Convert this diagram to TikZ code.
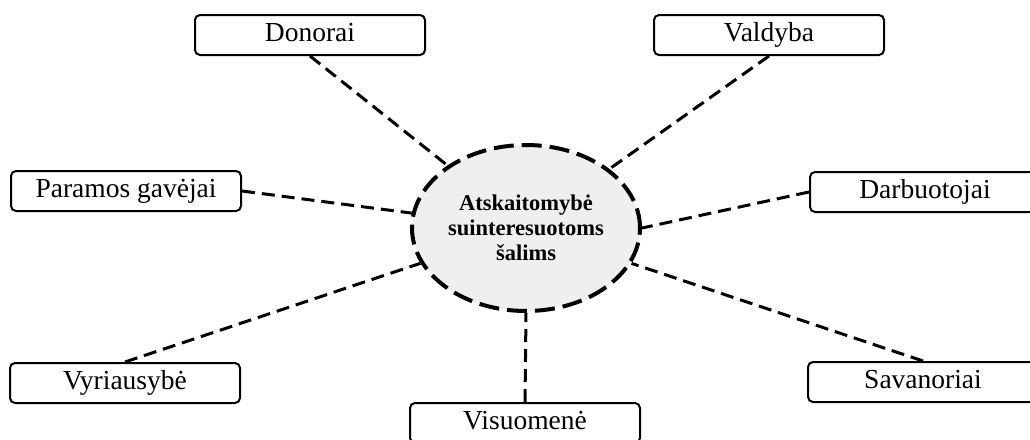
\documentclass[tikz,border=0pt]{standalone}
\usepackage{fontspec}
\setmainfont{Liberation Serif}
\usetikzlibrary{shapes.geometric}
\definecolor{ellfill}{HTML}{EFEFEF}
\tikzset{
  party/.style={draw, line width=2pt, rounded corners=5pt, minimum width=230pt, minimum height=40pt, inner sep=0pt, text height=19pt, text depth=6pt, font=\fontsize{27.5}{30}\selectfont, fill=white},
  hub/.style={ellipse, draw, line width=4pt, dash pattern=on 20pt off 8pt, fill=ellfill, minimum width=228pt, minimum height=166pt, inner sep=0pt, align=center, font=\bfseries\fontsize{22.5}{25}\selectfont},
  link/.style={line width=3pt, dash pattern=on 13pt off 7pt}
}
\begin{document}
\begin{tikzpicture}[x=1pt,y=-1pt]
\useasboundingbox (0,0) rectangle (1030,439);
\node[hub] (ell) at (526,228) {Atskaitomybė\\suinteresuotoms\\šalims};
\node[party] (don) at (310,35) {Donorai};
\node[party] (val) at (769,35) {Valdyba};
\node[party] (par) at (126,191) {Paramos gavėjai};
\node[party] (dar) at (925,192) {Darbuotojai};
\node[party] (vyr) at (125,383) {Vyriausybė};
\node[party] (sav) at (923,382) {Savanoriai};
\node[party] (vis) at (525,423) {Visuomenė};
\draw[link] (don.south) -- (ell);
\draw[link] (val.south) -- (ell);
\draw[link] (par.east) -- (ell);
\draw[link] (dar.west) -- (ell.east);
\draw[link] (vyr.north) -- (ell);
\draw[link] (sav.north) -- (ell);
\draw[link] (vis.north) -- (ell.south);
\end{tikzpicture}
\end{document}
